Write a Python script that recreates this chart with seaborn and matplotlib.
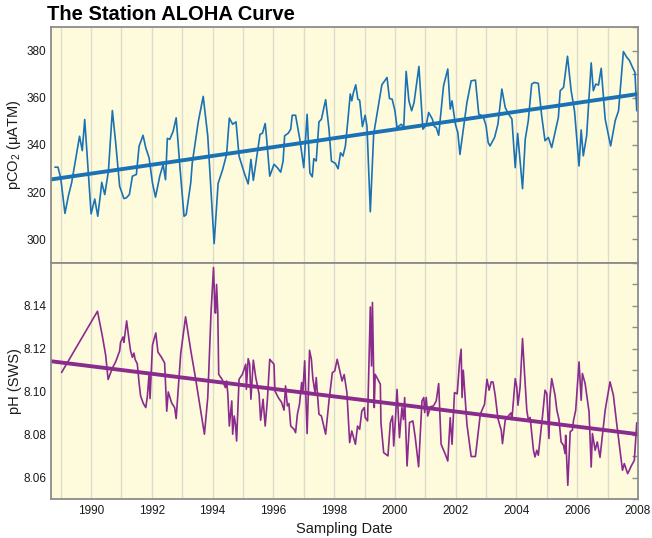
import numpy as np
import pandas as pd
import seaborn as sns
import matplotlib.pyplot as plt

# pCO2 series (year, uatm)
co2_years = [1988.81, 1988.91, 1989.00, 1989.14, 1989.25, 1989.36, 1989.49, 1989.62, 1989.71, 1989.79,
             1989.90, 1990.00, 1990.12, 1990.22, 1990.32, 1990.35, 1990.45, 1990.57, 1990.70, 1990.81,
             1990.94, 1991.08, 1991.16, 1991.26, 1991.36, 1991.49, 1991.58, 1991.71, 1991.80, 1991.91,
             1992.02, 1992.12, 1992.26, 1992.37, 1992.45, 1992.51, 1992.59, 1992.70, 1992.80, 1992.93,
             1993.06, 1993.13, 1993.28, 1993.33, 1993.53, 1993.69, 1993.84, 1994.05, 1994.18, 1994.33,
             1994.46, 1994.55, 1994.66, 1994.77, 1994.87, 1995.04, 1995.17, 1995.26, 1995.34, 1995.44,
             1995.56, 1995.64, 1995.73, 1995.78, 1995.88, 1996.02, 1996.13, 1996.24, 1996.32, 1996.37,
             1996.49, 1996.57, 1996.62, 1996.73, 1996.87, 1997.00, 1997.11, 1997.20, 1997.28, 1997.33,
             1997.41, 1997.50, 1997.58, 1997.72, 1997.83, 1997.91, 1998.04, 1998.13, 1998.21, 1998.29,
             1998.37, 1998.45, 1998.53, 1998.58, 1998.63, 1998.71, 1998.78, 1998.84, 1998.93, 1999.02,
             1999.08, 1999.19, 1999.30, 1999.57, 1999.74, 1999.82, 1999.91, 2000.00, 2000.07, 2000.21,
             2000.29, 2000.37, 2000.46, 2000.55, 2000.63, 2000.79, 2000.92, 2001.03, 2001.11, 2001.23,
             2001.30, 2001.36, 2001.44, 2001.60, 2001.74, 2001.82, 2001.88, 2001.99, 2002.07, 2002.14,
             2002.37, 2002.51, 2002.65, 2002.76, 2002.90, 2003.00, 2003.07, 2003.13, 2003.28, 2003.39,
             2003.52, 2003.63, 2003.74, 2003.85, 2003.96, 2004.04, 2004.20, 2004.29, 2004.39, 2004.50,
             2004.59, 2004.72, 2004.83, 2004.94, 2005.05, 2005.16, 2005.27, 2005.38, 2005.44, 2005.55,
             2005.68, 2005.80, 2005.91, 2006.06, 2006.13, 2006.20, 2006.31, 2006.46, 2006.53, 2006.61,
             2006.70, 2006.79, 2006.92, 2007.10, 2007.25, 2007.36, 2007.52, 2007.63, 2007.72, 2007.82,
             2007.90, 2007.96]
co2_values = [330.6, 330.6, 326.0, 311.0, 318.3, 324.0, 333.8, 343.7, 337.6, 350.8,
              329.6, 310.8, 317.1, 309.8, 320.4, 324.2, 319.0, 328.9, 354.6, 340.9,
              322.5, 317.3, 317.6, 319.0, 326.8, 327.5, 339.5, 344.1, 338.8, 334.5,
              323.9, 317.9, 326.8, 331.7, 325.3, 342.8, 342.4, 345.8, 351.5, 329.6,
              309.8, 310.5, 324.0, 332.4, 350.0, 360.6, 343.8, 298.2, 323.7, 329.6,
              336.0, 351.4, 348.8, 349.8, 335.3, 328.2, 323.5, 333.9, 325.0, 333.9,
              344.5, 345.0, 349.1, 342.4, 326.8, 331.8, 330.4, 328.5, 333.2, 343.9,
              345.0, 346.7, 352.6, 352.6, 342.4, 330.4, 353.0, 328.2, 326.5, 334.2,
              333.2, 349.8, 350.9, 359.2, 346.7, 333.2, 332.2, 329.9, 336.7, 335.3,
              339.6, 350.2, 361.6, 358.7, 362.0, 365.5, 359.4, 359.0, 347.8, 352.6,
              348.1, 311.7, 344.5, 365.5, 368.6, 359.7, 359.4, 354.5, 347.4, 348.8,
              347.4, 371.2, 358.7, 354.5, 358.0, 373.3, 346.7, 348.4, 353.8, 351.0,
              347.8, 347.4, 344.1, 365.1, 372.2, 355.2, 358.7, 348.8, 345.3, 336.0,
              358.0, 367.2, 367.5, 353.0, 352.3, 348.1, 341.0, 339.6, 343.2, 348.8,
              363.7, 355.9, 353.1, 351.0, 330.4, 344.9, 321.5, 342.5, 350.3, 365.8,
              366.5, 366.1, 352.4, 341.8, 343.2, 338.9, 345.3, 351.7, 363.0, 364.4,
              377.6, 363.0, 354.5, 331.1, 346.4, 335.4, 343.9, 374.8, 363.0, 365.8,
              365.4, 372.5, 351.0, 339.6, 350.3, 354.5, 379.6, 377.2, 375.8, 372.9,
              370.8, 354.5]

# pH series (year, pH on seawater scale)
ph_years = [1989.03, 1990.21, 1990.37, 1990.48, 1990.56, 1990.70, 1990.81, 1990.94, 1990.97, 1991.05,
            1991.08, 1991.17, 1991.25, 1991.30, 1991.36, 1991.41, 1991.45, 1991.52, 1991.58, 1991.63,
            1991.72, 1991.80, 1991.85, 1991.91, 1991.94, 1992.02, 1992.13, 1992.20, 1992.31, 1992.42,
            1992.49, 1992.54, 1992.65, 1992.75, 1992.80, 1992.95, 1993.11, 1993.28, 1993.44, 1993.73,
            1993.84, 1993.95, 1994.03, 1994.08, 1994.10, 1994.13, 1994.17, 1994.20, 1994.31, 1994.42,
            1994.46, 1994.50, 1994.55, 1994.63, 1994.66, 1994.71, 1994.75, 1994.79, 1994.87, 1994.98,
            1995.09, 1995.11, 1995.17, 1995.22, 1995.26, 1995.34, 1995.42, 1995.53, 1995.58, 1995.66,
            1995.73, 1995.80, 1995.88, 1996.02, 1996.05, 1996.16, 1996.27, 1996.35, 1996.40, 1996.46,
            1996.51, 1996.57, 1996.68, 1996.73, 1996.79, 1996.86, 1996.93, 1996.97, 1997.03, 1997.11,
            1997.19, 1997.25, 1997.30, 1997.37, 1997.41, 1997.50, 1997.58, 1997.72, 1997.83, 1997.94,
            1998.02, 1998.10, 1998.15, 1998.26, 1998.33, 1998.42, 1998.51, 1998.58, 1998.70, 1998.77,
            1998.84, 1998.91, 1998.99, 1999.02, 1999.10, 1999.19, 1999.23, 1999.26, 1999.32, 1999.35,
            1999.43, 1999.52, 1999.54, 1999.63, 1999.77, 1999.85, 1999.92, 1999.96, 2000.02, 2000.07,
            2000.15, 2000.23, 2000.28, 2000.32, 2000.40, 2000.48, 2000.59, 2000.67, 2000.78, 2000.89,
            2000.95, 2000.98, 2001.03, 2001.08, 2001.17, 2001.27, 2001.36, 2001.44, 2001.52, 2001.66,
            2001.74, 2001.82, 2001.88, 2001.96, 2002.05, 2002.13, 2002.18, 2002.21, 2002.25, 2002.37,
            2002.51, 2002.65, 2002.81, 2002.95, 2003.03, 2003.10, 2003.17, 2003.23, 2003.30, 2003.39,
            2003.50, 2003.54, 2003.63, 2003.69, 2003.82, 2003.85, 2003.96, 2004.01, 2004.05, 2004.12,
            2004.20, 2004.26, 2004.34, 2004.39, 2004.45, 2004.56, 2004.61, 2004.67, 2004.72, 2004.86,
            2004.94, 2005.00, 2005.07, 2005.10, 2005.16, 2005.27, 2005.33, 2005.40, 2005.47, 2005.55,
            2005.60, 2005.62, 2005.69, 2005.77, 2005.84, 2005.88, 2005.95, 2006.06, 2006.13, 2006.17,
            2006.26, 2006.35, 2006.39, 2006.46, 2006.50, 2006.59, 2006.66, 2006.75, 2006.92, 2007.08,
            2007.19, 2007.30, 2007.49, 2007.55, 2007.66, 2007.79, 2007.88, 2007.96, 2008.00]
ph_values = [8.109, 8.1375, 8.126, 8.117, 8.1057, 8.111, 8.114, 8.119, 8.123, 8.1255,
             8.123, 8.133, 8.124, 8.119, 8.116, 8.118, 8.115, 8.113, 8.104, 8.098,
             8.0945, 8.0926, 8.0976, 8.1085, 8.0968, 8.1217, 8.1274, 8.1185, 8.1162, 8.1134,
             8.0909, 8.0999, 8.0948, 8.0926, 8.0875, 8.1178, 8.1349, 8.1193, 8.1061, 8.0802,
             8.0973, 8.1377, 8.1579, 8.1369, 8.1366, 8.150, 8.137, 8.1081, 8.1058, 8.1019,
             8.105, 8.099, 8.084, 8.0957, 8.0802, 8.0887, 8.085, 8.077, 8.1058, 8.1081,
             8.1128, 8.1011, 8.1154, 8.1128, 8.0965, 8.1147, 8.1066, 8.0988, 8.0867, 8.0965,
             8.084, 8.0957, 8.1151, 8.1128, 8.1004, 8.0973, 8.095, 8.0914, 8.1027, 8.0934,
             8.0945, 8.084, 8.0825, 8.0809, 8.0895, 8.0942, 8.1043, 8.0996, 8.1144, 8.0805,
             8.1193, 8.1151, 8.106, 8.0996, 8.1066, 8.0895, 8.0887, 8.0802, 8.0957, 8.1089,
             8.1097, 8.1151, 8.112, 8.105, 8.108, 8.0996, 8.0763, 8.0817, 8.0755, 8.084,
             8.0825, 8.091, 8.0926, 8.088, 8.0864, 8.1395, 8.112, 8.1416, 8.0926, 8.1081,
             8.106, 8.1035, 8.0856, 8.0716, 8.0701, 8.0856, 8.0887, 8.0747, 8.088, 8.1011,
             8.0786, 8.0926, 8.087, 8.0973, 8.0654, 8.0856, 8.0864, 8.0786, 8.065, 8.0957,
             8.0973, 8.0903, 8.0973, 8.0887, 8.093, 8.0934, 8.0957, 8.1038, 8.0755, 8.0708,
             8.0677, 8.0879, 8.0755, 8.0996, 8.099, 8.1144, 8.1198, 8.0973, 8.110, 8.0848,
             8.0698, 8.0698, 8.0895, 8.0942, 8.1058, 8.1007, 8.1046, 8.1045, 8.0984, 8.0875,
             8.082, 8.0758, 8.0867, 8.088, 8.0901, 8.087, 8.1061, 8.1022, 8.0937, 8.1022,
             8.1248, 8.110, 8.0914, 8.087, 8.088, 8.0727, 8.0696, 8.0727, 8.0704, 8.089,
             8.1007, 8.0991, 8.0782, 8.097, 8.1061, 8.0984, 8.0914, 8.087, 8.0766, 8.075,
             8.0712, 8.0797, 8.0564, 8.0814, 8.0821, 8.0867, 8.0914, 8.1139, 8.096, 8.1085,
             8.1038, 8.0945, 8.0906, 8.0649, 8.0805, 8.0727, 8.0766, 8.0694, 8.0914, 8.1046,
             8.0984, 8.0851, 8.0634, 8.0665, 8.0618, 8.0657, 8.068, 8.0855, 8.0855]

# trend lines, end values
trend_years = [1988.68, 2008.0]
co2_trend = [325.4, 361.6]
ph_trend = [8.1142, 8.0802]

blue = "#1a72b4"
purple = "#8a2b8d"
bg = "#fefbdd"
edge = "#8c8c8c"

sns.set_style("white")
plt.rcParams["font.family"] = ["Liberation Sans", "DejaVu Sans"]
plt.rcParams["mathtext.fontset"] = "custom"
plt.rcParams["mathtext.rm"] = "Liberation Sans"
plt.rcParams["mathtext.it"] = "Liberation Sans:italic"

co2 = pd.DataFrame({"year": co2_years, "pco2": co2_values})
ph = pd.DataFrame({"year": ph_years, "ph": ph_values})

fig = plt.figure(figsize=(6.52, 5.38), dpi=100)
ax1 = fig.add_axes([0.0782, 0.5112, 0.9003, 0.4386])
ax2 = fig.add_axes([0.0782, 0.0725, 0.9003, 0.4387], sharex=ax1)

sns.lineplot(data=co2, x="year", y="pco2", ax=ax1, color=blue, lw=1.2)
sns.lineplot(x=trend_years, y=co2_trend, ax=ax1, color=blue, lw=2.8)
sns.lineplot(data=ph, x="year", y="ph", ax=ax2, color=purple, lw=1.2)
sns.lineplot(x=trend_years, y=ph_trend, ax=ax2, color=purple, lw=2.8)

ax1.set_xlim(1988.68, 2008.0)
ax1.set_ylim(290, 390)
ax2.set_ylim(8.05, 8.16)

for ax in (ax1, ax2):
    ax.set_facecolor(bg)
    for yr in range(1989, 2008):
        ax.axvline(yr, color="#dddccb", lw=1, zorder=0)
    for s in ax.spines.values():
        s.set_color(edge)
        s.set_linewidth(1.3)
    ax.tick_params(axis="y", which="both", direction="out", length=3, width=1,
                   color=edge, labelsize=8.5, pad=0.5, labelcolor="#1a1a1a")
    ax.tick_params(axis="x", which="both", length=0, labelsize=8.5, pad=4,
                   labelcolor="#1a1a1a")

ax1.set_yticks([300, 320, 340, 360, 380])
ax1.set_yticks(np.arange(290, 391, 10), minor=True)
ax2.set_yticks([8.06, 8.08, 8.10, 8.12, 8.14])
ax2.set_yticks(np.arange(8.05, 8.161, 0.01), minor=True)
ax2.set_yticklabels(["8.06", "8.08", "8.10", "8.12", "8.14"])
ax2.set_xticks(range(1990, 2009, 2))
ax1.tick_params(axis="x", labelbottom=False)

# inward ticks on the right edge
for ax, minor in ((ax1, np.arange(290, 391, 10)), (ax2, np.arange(8.05, 8.161, 0.01))):
    sec = ax.secondary_yaxis("right")
    sec.set_yticks(minor)
    sec.tick_params(direction="in", length=4, width=1, color=edge, labelright=False)
    sec.spines["right"].set_visible(False)

ax1.set_ylabel("pCO$_2$ ($\\mathregular{\\mu}$ATM)", fontsize=10.5, color="#1a1a1a")
ax1.yaxis.set_label_coords(-0.047, 0.5)
ax1.set_xlabel("")
ax2.set_ylabel("pH (SWS)", fontsize=10.5, color="#1a1a1a")
ax2.yaxis.set_label_coords(-0.05, 0.5)
ax2.set_xlabel("Sampling Date", fontsize=10.5, labelpad=4, color="#1a1a1a")

fig.text(0.072, 0.962, "The Station ALOHA Curve", fontsize=14.5, fontweight="bold",
         color="black")

fig.savefig("out.png", dpi=100)
